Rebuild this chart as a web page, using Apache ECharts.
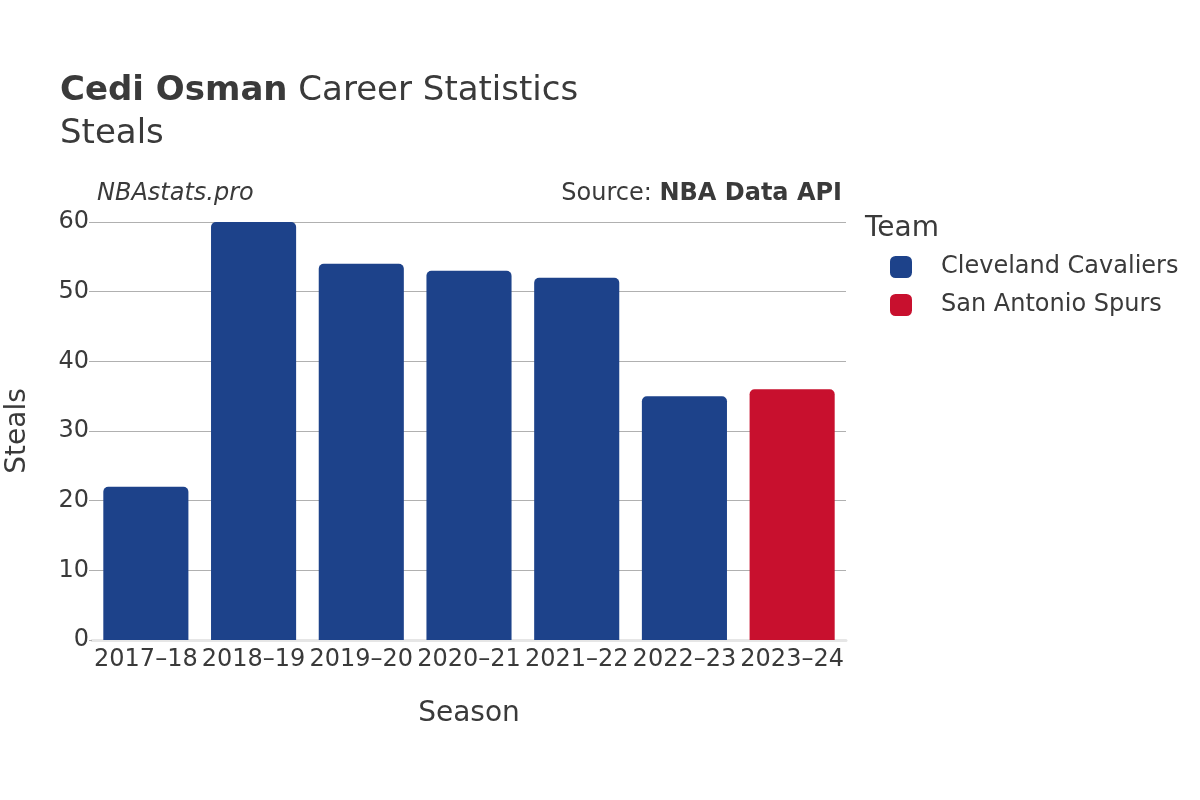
<!DOCTYPE html>
<html>
<head>
<meta charset="utf-8">
<script src="https://cdn.jsdelivr.net/npm/echarts@6/dist/echarts.min.js"></script>
<style>html,body{margin:0;padding:0;background:#fff}#c{width:1200px;height:800px}</style>
</head>
<body>
<div id="c"></div>
<script>
const seasons = ['2017–18','2018–19','2019–20','2020–21','2021–22','2022–23','2023–24'];
const cavs = [22, 60, 54, 53, 52, 35, null];
const spurs = [null, null, null, null, null, null, 36];
const yTicks = [0, 10, 20, 30, 40, 50, 60];
const teams = ['Cleveland Cavaliers', 'San Antonio Spurs'];

const F = 'DejaVu Sans';
const chart = echarts.init(document.getElementById('c'), null, {renderer: 'canvas'});
chart.setOption({
  backgroundColor: '#fff',
  animation: false,
  textStyle: {fontFamily: F},
  title: [
    {text: '{b|Cedi Osman} Career Statistics\nSteals', left: 55, top: 65,
     textStyle: {fontFamily: F, fontSize: 34, fontWeight: 'normal', color: '#3a3a3a', lineHeight: 43,
       rich: {b: {fontFamily: F, fontSize: 34, fontWeight: 'bold', color: '#3a3a3a', lineHeight: 43}}}},
    {text: 'NBAstats.pro', left: 92, top: 177,
     textStyle: {fontFamily: F, fontSize: 24, fontStyle: 'italic', fontWeight: 'normal', color: '#3a3a3a'}},
    {text: 'Source: {b|NBA Data API}', right: 353, top: 177,
     textStyle: {fontFamily: F, fontSize: 24, fontWeight: 'normal', color: '#3a3a3a',
       rich: {b: {fontFamily: F, fontSize: 24, fontWeight: 'bold', color: '#3a3a3a'}}}},
    {text: 'Team', left: 860, top: 210,
     textStyle: {fontFamily: F, fontSize: 28, fontWeight: 'normal', color: '#3a3a3a'}}
  ],
  legend: {
    data: teams, orient: 'vertical', left: 885, top: 250, itemWidth: 22, itemHeight: 22, itemGap: 14,
    icon: 'roundRect',
    textStyle: {fontFamily: F, fontSize: 24, color: '#3a3a3a', padding: [0, 0, 0, 24]}
  },
  grid: {left: 92, right: 354, top: 222, bottom: 160, containLabel: false, outerBoundsMode: 'none'},
  xAxis: {
    type: 'category', data: seasons, name: 'Season', nameLocation: 'middle', nameGap: 60,
    nameTextStyle: {fontFamily: F, fontSize: 28, color: '#3a3a3a'},
    axisLine: {show: true, lineStyle: {color: '#e6e6e6', width: 3}},
    axisTick: {show: false},
    axisLabel: {fontFamily: F, fontSize: 24, color: '#3a3a3a', margin: 8, interval: 0}
  },
  yAxis: {
    type: 'value', min: 0, max: 60, interval: 10, name: 'Steals', nameLocation: 'middle', nameGap: 60,
    nameTextStyle: {fontFamily: F, fontSize: 28, color: '#3a3a3a'},
    axisLine: {show: false}, axisTick: {show: true, length: 3, lineStyle: {color: '#b0b0b0'}},
    splitLine: {lineStyle: {color: '#b0b0b0', width: 1}},
    axisLabel: {fontFamily: F, fontSize: 24, color: '#3a3a3a', margin: 3, verticalAlign: 'middle',
      padding: [3, 0, 0, 0],
      formatter: v => yTicks.includes(v) ? String(v) : ''}
  },
  series: [
    {name: teams[0], type: 'bar', data: cavs, barCategoryGap: '21%', barGap: '-100%',
     itemStyle: {color: '#1d428a', borderRadius: [5, 5, 0, 0]}},
    {name: teams[1], type: 'bar', data: spurs, barCategoryGap: '21%', barGap: '-100%',
     itemStyle: {color: '#c8102e', borderRadius: [5, 5, 0, 0]}}
  ]
});
</script>
</body>
</html>
